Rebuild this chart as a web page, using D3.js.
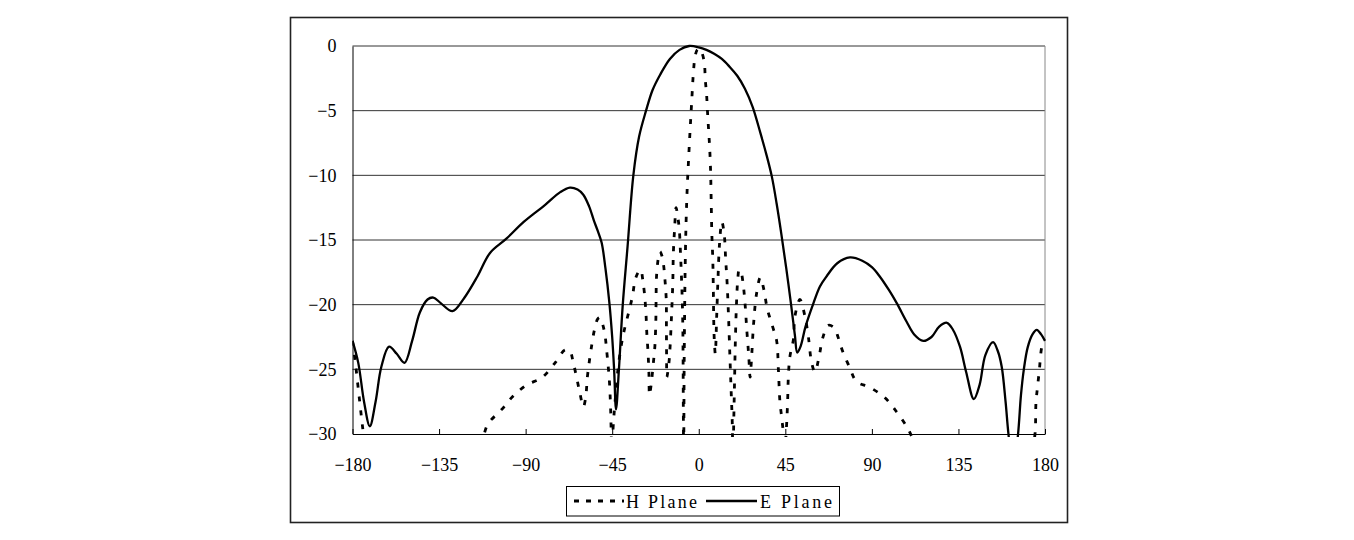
<!DOCTYPE html>
<html>
<head>
<meta charset="utf-8">
<script src="https://cdn.jsdelivr.net/npm/d3@7"></script>
<style>
body { margin: 0; background: #fff; }
svg { display: block; font-family: "Liberation Serif", serif; }
</style>
</head>
<body>
<script>
// radiation pattern, angle (deg) -> gain (dB)
var ePlane = [
  [-180,-22.8],[-177,-24.5],[-174,-27.5],[-171,-29.4],[-168,-27.5],[-165,-24.8],[-161,-23.25],
  [-157,-23.8],[-153,-24.5],[-149,-22.8],[-145,-20.6],[-141,-19.6],[-138,-19.45],[-134,-19.9],
  [-128,-20.5],[-122,-19.5],[-115,-17.8],[-108.5,-16.0],[-100,-14.9],[-91,-13.6],[-80,-12.3],
  [-72,-11.3],[-67,-10.95],[-63,-11.1],[-60,-11.5],[-57,-12.4],[-54.5,-13.5],[-52.5,-14.3],
  [-50.5,-15.2],[-48.5,-17.2],[-46.5,-19.8],[-45,-22.5],[-44,-25],[-43,-28.1],[-41.5,-25],
  [-39.5,-20],[-37,-15.5],[-34,-10],[-31,-7],[-27.4,-5],[-24,-3.4],[-20,-2.2],[-15,-1.0],
  [-10,-0.3],[-5,0],[0,-0.1],[4,-0.3],[8,-0.6],[12,-1.0],[16,-1.6],[20,-2.3],[24,-3.3],
  [28,-4.7],[32,-6.7],[35,-8.3],[38,-10.1],[40.5,-12.2],[43,-14.6],[45.5,-17.2],[48,-20],
  [50,-22.4],[51.2,-23.7],[53,-23.2],[55.5,-21.7],[59.6,-19.9],[63,-18.6],[66.5,-17.8],[72,-16.8],
  [78.6,-16.35],[85,-16.6],[90,-17.1],[94,-17.8],[99,-18.9],[103,-19.9],[108,-21.3],[112,-22.3],
  [116.7,-22.8],[121,-22.5],[125,-21.7],[129,-21.4],[132,-21.9],[135.8,-23.25],[139,-25.2],
  [143,-27.3],[146,-26.2],[149,-23.9],[153,-22.9],[155.5,-23.6],[157.5,-24.8],[159.5,-27.5],
  [161,-30],[163.5,-33],[166,-30],[167.5,-27],[169,-25],[171,-23.3],[173.5,-22.3],[175.7,-21.95],
  [178,-22.3],[180,-22.8]
];

var hPlane = [
  [-180,-22.8],[-178.5,-24.5],[-177,-26.5],[-175.5,-28.5],[-174,-30.5],[-172,-34],[-150,-38],
  [-125,-35],[-114,-31],[-112,-30.2],[-109.5,-29.2],[-102.4,-28.1],[-96.7,-27.1],[-89.4,-26.2],
  [-81.6,-25.65],[-74.7,-24.5],[-69.5,-23.5],[-67,-23.6],[-65.2,-24.5],[-63.4,-25.7],[-61.7,-26.9],
  [-60,-27.9],[-58.8,-27.2],[-57.9,-25.6],[-56.9,-24.4],[-55.6,-23.1],[-54.3,-22],[-52.5,-21.1],
  [-51.3,-21.0],[-49.8,-21.6],[-48.7,-22.4],[-47.9,-23.5],[-46.5,-25.8],[-45.8,-28.1],[-45.2,-31],
  [-44.3,-29],[-43.5,-27.5],[-42,-25],[-40,-22.9],[-38.3,-21.7],[-36.1,-20.4],[-34.4,-19.3],
  [-33.1,-18.1],[-31.5,-17.5],[-30.2,-17.3],[-29,-18.2],[-28,-19.5],[-27.4,-20.8],[-27,-22.2],
  [-26.4,-23.6],[-25.9,-25.3],[-25.6,-27],[-24.6,-26],[-23.6,-24.5],[-22.8,-23.2],[-22.3,-21.2],
  [-22.2,-19.9],[-21.9,-17.7],[-20.9,-16.3],[-20.1,-15.9],[-19.2,-16.2],[-18.4,-16.8],[-17.5,-18.2],
  [-16.9,-19.6],[-16.8,-22],[-16.7,-24.3],[-16.6,-25.6],[-15.5,-24.5],[-14.9,-23.25],[-14.2,-21],
  [-13.5,-18.35],[-13.2,-16],[-12.5,-14],[-11.8,-12.5],[-10.9,-13.2],[-10.1,-14.2],[-9.5,-16],
  [-9.0,-17.8],[-8.6,-19.5],[-8.3,-21.5],[-8.15,-24],[-8.05,-27],[-7.95,-30],[-7.85,-33],
  [-7.75,-30],[-7.6,-25],[-7.4,-21.5],[-7.1,-17.5],[-6.6,-13.7],[-6.0,-11],[-5.3,-8.8],[-4.5,-6.5],
  [-3.7,-4.4],[-2.8,-2.1],[-1.9,-0.8],[-0.8,-0.3],[0.4,-0.2],[1.6,-0.5],[2.9,-1.3],[3.4,-2.6],
  [4.1,-3.8],[4.5,-4.95],[5.0,-6.2],[5.5,-7.4],[5.9,-8.6],[6.2,-9.9],[6.5,-12.2],[6.8,-14.5],
  [7.3,-16.5],[7.6,-19],[7.8,-21.3],[8.1,-22.8],[8.6,-23.8],[9.3,-21],[10,-18],[10.8,-15.3],
  [12,-13.6],[13.2,-14.5],[14,-16.5],[14.8,-18.5],[15.5,-21],[16.2,-24],[16.8,-26.5],[17.4,-29],
  [17.8,-32],[18.2,-29],[18.6,-26],[19,-23],[19.6,-20],[20.3,-18],[21,-17.3],[22,-17.5],[23,-18.3],
  [24,-19.8],[25,-22],[26,-24],[26.7,-25.6],[27.5,-24],[28.5,-21.5],[30,-19.2],[32,-17.9],
  [33.8,-18.8],[35.6,-20.3],[38.4,-21.7],[40.5,-22.8],[41.4,-25],[42.2,-27.5],[43.1,-28.7],
  [44,-30],[44.6,-32],[45.2,-30.5],[45.7,-29.2],[46.2,-27.5],[46.6,-25.5],[47.4,-24],[49.2,-22.7],
  [50,-20.9],[52.6,-19.6],[55.2,-20.9],[57,-22.5],[58.7,-24.5],[60.4,-25.2],[62.7,-23.9],
  [64.4,-22.6],[67.4,-21.6],[70.5,-21.8],[72.4,-22.5],[74.8,-23.6],[78.3,-24.8],[82.1,-25.95],
  [89,-26.4],[96.8,-27.2],[102.9,-28.3],[108,-29.4],[111,-30.3],[115,-32],[140,-38],[165,-35],
  [173,-31.5],[174.8,-30],[175.3,-27.6],[176,-26.5],[177.1,-25],[177.8,-23.8],[178.5,-23.2],[180,-22.8]
];

var xTicks = [-180, -135, -90, -45, 0, 45, 90, 135, 180];
var yTicks = [0, -5, -10, -15, -20, -25, -30];
var seriesNames = ["H Plane", "E Plane"];

var width = 1354, height = 540;
var plot = {left: 352.5, right: 1045, top: 46, bottom: 434};

var svg = d3.select("body").append("svg")
    .attr("width", width)
    .attr("height", height);

// chart frame
svg.append("rect")
    .attr("x", 290.5).attr("y", 17.5)
    .attr("width", 777).attr("height", 505)
    .attr("fill", "#fff")
    .attr("stroke", "#222")
    .attr("stroke-width", 1.6);

var x = d3.scaleLinear().domain([-180, 180]).range([plot.left, plot.right]);
var y = d3.scaleLinear().domain([-30, 0]).range([plot.bottom, plot.top]);

// horizontal grid
svg.append("g")
    .selectAll("line")
    .data(yTicks.filter(function(d) { return d > -30; }))
    .enter().append("line")
        .attr("x1", plot.left).attr("x2", plot.right)
        .attr("y1", function(d) { return y(d); })
        .attr("y2", function(d) { return y(d); })
        .attr("stroke", "#333")
        .attr("stroke-width", 1);

// right edge of plot area
svg.append("line")
    .attr("x1", plot.right).attr("x2", plot.right)
    .attr("y1", plot.top).attr("y2", plot.bottom)
    .attr("stroke", "#888");

// clip for the curves
svg.append("clipPath").attr("id", "clip")
    .append("rect")
    .attr("x", plot.left).attr("y", plot.top - 4)
    .attr("width", plot.right - plot.left + 1)
    .attr("height", plot.bottom - plot.top + 7);

var line = d3.line()
    .x(function(d) { return x(d[0]); })
    .y(function(d) { return y(d[1]); })
    .curve(d3.curveCatmullRom.alpha(0.5));

var curves = svg.append("g").attr("clip-path", "url(#clip)");

curves.append("path")
    .datum(hPlane)
    .attr("d", line)
    .attr("fill", "none")
    .attr("stroke", "#000")
    .attr("stroke-width", 2.8)
    .attr("stroke-dasharray", "5,9");

curves.append("path")
    .datum(ePlane)
    .attr("d", line)
    .attr("fill", "none")
    .attr("stroke", "#000")
    .attr("stroke-width", 2.3)
    .attr("stroke-linejoin", "round");

// x axis, ticks pointing up into the plot
var xAxis = svg.append("g")
    .attr("transform", "translate(0," + plot.bottom + ")")
    .call(d3.axisBottom(x).tickValues(xTicks).tickSizeInner(-5).tickSizeOuter(0).tickPadding(24));
xAxis.select(".domain").attr("stroke", "#000");
xAxis.selectAll("text").attr("font-size", 18).attr("fill", "#000")
    .attr("font-family", "Liberation Serif, serif");

// y axis
var yAxis = svg.append("g")
    .attr("transform", "translate(" + plot.left + ",0)")
    .call(d3.axisLeft(y).tickValues(yTicks).tickSize(0).tickPadding(16));
yAxis.select(".domain").attr("stroke", "#000");
yAxis.selectAll("text").attr("font-size", 18).attr("fill", "#000")
    .attr("font-family", "Liberation Serif, serif");

// legend
var legend = svg.append("g");
legend.append("rect")
    .attr("x", 566.5).attr("y", 486.5)
    .attr("width", 273).attr("height", 29.5)
    .attr("fill", "#fff")
    .attr("stroke", "#000");

legend.append("line")
    .attr("x1", 574).attr("x2", 624).attr("y1", 501).attr("y2", 501)
    .attr("stroke", "#000").attr("stroke-width", 2.8)
    .attr("stroke-dasharray", "5,7");
legend.append("text")
    .attr("x", 626).attr("y", 507.5)
    .attr("font-size", 18)
    .attr("textLength", 71)
    .attr("lengthAdjust", "spacing")
    .text(seriesNames[0]);

legend.append("line")
    .attr("x1", 706).attr("x2", 757).attr("y1", 501).attr("y2", 501)
    .attr("stroke", "#000").attr("stroke-width", 2.3);
legend.append("text")
    .attr("x", 760).attr("y", 507.5)
    .attr("font-size", 18)
    .attr("textLength", 72)
    .attr("lengthAdjust", "spacing")
    .text(seriesNames[1]);
</script>
</body>
</html>
